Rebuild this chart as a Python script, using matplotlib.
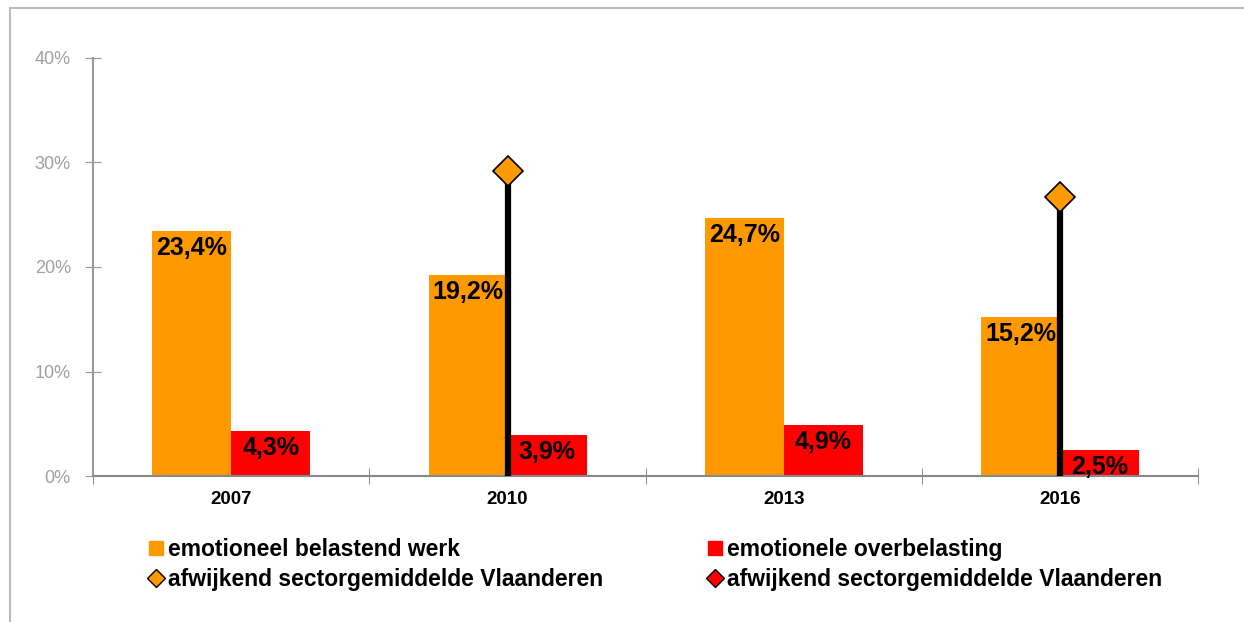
import matplotlib.pyplot as plt
import matplotlib.patches as mpatches
from matplotlib.lines import Line2D
import numpy as np

plt.rcParams['font.family'] = ['Liberation Sans', 'DejaVu Sans']

# data
years = ['2007', '2010', '2013', '2016']
belastend = [23.4, 19.2, 24.7, 15.2]
overbelasting = [4.3, 3.9, 4.9, 2.5]
afwijkend = [None, 29.2, None, 26.7]

orange = '#FF9900'
red = '#FF0000'

fig = plt.figure(figsize=(12.44, 6.22), dpi=100)
ax = fig.add_axes([0.0748, 0.2347, 0.8885, 0.6721])

# frame around the figure
fig.patches.append(mpatches.Rectangle((10 / 1244, -0.1), 1.2, 1 - 8 / 622 + 0.1,
                                      transform=fig.transFigure, fill=False,
                                      edgecolor='#BBBBBB', linewidth=1.5))

x = np.arange(len(years))
w = 0.286
ax.bar(x - w / 2, belastend, w, color=orange, zorder=2)
ax.bar(x + w / 2, overbelasting, w, color=red, zorder=2)

for i, v in enumerate(belastend):
    ax.text(x[i] - w / 2, v - 0.45, f'{v:.1f}%'.replace('.', ','), ha='center', va='top',
            fontsize=18, fontweight='bold', zorder=4)
for i, v in enumerate(overbelasting):
    ax.text(x[i] + w / 2, v - 0.45, f'{v:.1f}%'.replace('.', ','), ha='center', va='top',
            fontsize=18, fontweight='bold', zorder=4)

for i, v in enumerate(afwijkend):
    if v is None:
        continue
    ax.plot([x[i], x[i]], [0, v], color='black', linewidth=4.5, zorder=3)
    ax.plot(x[i], v, marker='D', markersize=15.5, markerfacecolor=orange,
            markeredgecolor='black', markeredgewidth=1.2, zorder=5, clip_on=False)

ax.set_xlim(-0.5, len(years) - 0.5)
ax.set_ylim(0, 40)
ax.set_yticks([0, 10, 20, 30, 40])
ax.set_yticklabels(['0%', '10%', '20%', '30%', '40%'], color='#A0A0A0', fontsize=13)
ax.set_xticks(x)
ax.set_xticklabels(years, fontweight='bold', fontsize=13.5)
ax.set_xticks(np.arange(-0.5, len(years)), minor=True)
ax.tick_params(axis='x', which='major', length=0, pad=11)
ax.tick_params(axis='x', which='minor', direction='inout', length=12, color='#777777')
ax.tick_params(axis='y', direction='inout', length=12, color='#999999', pad=10)

for s in ['top', 'right']:
    ax.spines[s].set_visible(False)
ax.spines['left'].set_color('#999999')
ax.spines['bottom'].set_color('#888888')
ax.spines['left'].set_linewidth(1.5)
ax.spines['bottom'].set_linewidth(1.5)

handles = [
    Line2D([], [], marker='s', linestyle='none', markersize=10, markerfacecolor=orange,
           markeredgecolor=orange),
    Line2D([], [], marker='D', linestyle='none', markersize=9, markerfacecolor=orange,
           markeredgecolor='black'),
    Line2D([], [], marker='s', linestyle='none', markersize=10, markerfacecolor=red,
           markeredgecolor=red),
    Line2D([], [], marker='D', linestyle='none', markersize=9, markerfacecolor=red,
           markeredgecolor='black'),
]
labels = ['emotioneel belastend werk', 'afwijkend sectorgemiddelde Vlaanderen',
          'emotionele overbelasting', 'afwijkend sectorgemiddelde Vlaanderen']
fig.legend(handles, labels, ncol=2, loc='upper left', bbox_to_anchor=(0.113, 0.1495),
           frameon=False, prop={'weight': 'bold', 'size': 16.5}, handlelength=0.55,
           handletextpad=0.25, columnspacing=4.6, labelspacing=0.3, borderaxespad=0)

fig.savefig('out.png', dpi=100)
